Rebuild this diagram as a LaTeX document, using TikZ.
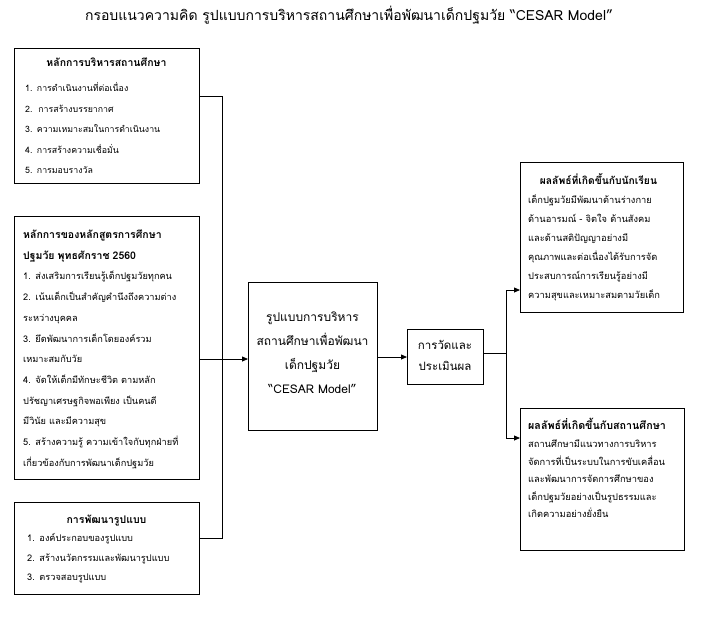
\documentclass[tikz,border=0pt]{standalone}
\usepackage{fontspec}
\newfontfamily\thai[Script=Thai]{Loma}
\usetikzlibrary{arrows.meta}
\begin{document}
\begin{tikzpicture}[x=1pt,y=-1pt,
  box/.style={draw, line width=0.8pt, inner sep=0pt, anchor=north west},
  txt/.style={inner sep=0pt, anchor=base west, align=left, text width=#1},
  txt/.default=180pt,
  ctxt/.style={inner sep=0pt, anchor=base, align=center, text width=#1},
  ctxt/.default=160pt,
  conn/.style={line width=0.8pt},
  arr/.style={conn, -{Triangle[length=6pt,width=5pt]}}
]
\useasboundingbox (0,0) rectangle (701,619);
\fill[white] (0,0) rectangle (701,619);

% title
\node[inner sep=0pt, anchor=base, font=\thai\fontsize{14}{16}\selectfont] (title) at (349,20)
  {กรอบแนวความคิด รูปแบบการบริหารสถานศึกษาเพื่อพัฒนาเด็กปฐมวัย “CESAR Model”};

% boxes
\node[box, minimum width=185pt, minimum height=135pt] (b1) at (14,48) {};
\node[box, minimum width=185pt, minimum height=263pt] (b2) at (14,216) {};
\node[box, minimum width=185pt, minimum height=92pt] (b3) at (14,502) {};
\node[box, minimum width=129pt, minimum height=148pt] (cb) at (248,282) {};
\node[box, minimum width=76pt, minimum height=55pt] (ev) at (407,329) {};
\node[box, minimum width=163pt, minimum height=150pt] (r1) at (520,162) {};
\node[box, minimum width=164pt, minimum height=142pt] (r2) at (520,408) {};

% box 1 text
\node[ctxt, font=\thai\bfseries\fontsize{10.5}{12}\selectfont] (h1) at (106.5,66) {หลักการบริหารสถานศึกษา};
\node[txt, font=\thai\fontsize{8.8}{20.5}\selectfont] (t1) at (25,91.5)
  {1. การดำเนินงานที่ต่อเนื่อง\\
   2.\ \ การสร้างบรรยากาศ\\
   3. ความเหมาะสมในการดำเนินงาน\\
   4. การสร้างความเชื่อมั่น\\
   5. การมอบรางวัล};

% box 2 text
\node[txt, font=\thai\fontsize{9.2}{20.7}\selectfont] (t2) at (23,238.5)
  {\textbf{\fontsize{10.5}{20.7}\selectfont หลักการของหลักสูตรการศึกษา}\\
   \textbf{\fontsize{10.5}{20.7}\selectfont ปฐมวัย พุทธศักราช 2560}\\
   1. ส่งเสริมการเรียนรู้เด็กปฐมวัยทุกคน\\
   2. เน้นเด็กเป็นสำคัญคำนึงถึงความต่าง\\
   ระหว่างบุคคล\\
   3. ยึดพัฒนาการเด็กโดยองค์รวม\\
   เหมาะสมกับวัย\\
   4. จัดให้เด็กมีทักษะชีวิต ตามหลัก\\
   ปรัชญาเศรษฐกิจพอเพียง เป็นคนดี\\
   มีวินัย และมีความสุข\\
   5. สร้างความรู้ ความเข้าใจกับทุกฝ่ายที่\\
   เกี่ยวข้องกับการพัฒนาเด็กปฐมวัย};

% box 3 text
\node[ctxt, font=\thai\bfseries\fontsize{10.5}{12}\selectfont] (h3) at (106.5,523) {การพัฒนารูปแบบ};
\node[txt, font=\thai\fontsize{9.2}{19.5}\selectfont] (t3) at (27,541.5)
  {1. องค์ประกอบของรูปแบบ\\
   2. สร้างนวัตกรรมและพัฒนารูปแบบ\\
   3. ตรวจสอบรูปแบบ};

% centre box text
\node[ctxt=127pt, font=\thai\fontsize{12}{24.3}\selectfont] (tc) at (312.5,321)
  {รูปแบบการบริหาร\\ สถานศึกษาเพื่อพัฒนา\\ เด็กปฐมวัย\\ “CESAR Model”};

% evaluation box text
\node[ctxt=74pt, font=\thai\fontsize{11.5}{21}\selectfont] (te) at (445,349)
  {การวัดและ\\ ประเมินผล};

% right box 1
\node[ctxt, font=\thai\bfseries\fontsize{10.3}{12}\selectfont] (hr1) at (598.5,184) {ผลลัพธ์ที่เกิดขึ้นกับนักเรียน};
\node[txt=160pt, font=\thai\fontsize{9.3}{19}\selectfont] (tr1) at (528,203.5)
  {เด็กปฐมวัยมีพัฒนาด้านร่างกาย\\
   ด้านอารมณ์ - จิตใจ ด้านสังคม\\
   และด้านสติปัญญาอย่างมี\\
   คุณภาพและต่อเนื่องได้รับการจัด\\
   ประสบการณ์การเรียนรู้อย่างมี\\
   ความสุขและเหมาะสมตามวัยเด็ก};

% right box 2
\node[txt=160pt, font=\thai\bfseries\fontsize{10.7}{14}\selectfont] (hr2) at (528,429.5) {ผลลัพธ์ที่เกิดขึ้นกับสถานศึกษา};
\node[txt=160pt, font=\thai\fontsize{9.3}{17.5}\selectfont] (tr2) at (528,447.5)
  {สถานศึกษามีแนวทางการบริหาร\\
   จัดการที่เป็นระบบในการขับเคลื่อน\\
   และพัฒนาการจัดการศึกษาของ\\
   เด็กปฐมวัยอย่างเป็นรูปธรรมและ\\
   เกิดความอย่างยั่งยืน};

% connector coordinates
\coordinate (vx) at (222,0);
\coordinate (vx2) at (506,0);
\coordinate (y1) at (0,96);
\coordinate (y2) at (0,359);
\coordinate (y3) at (0,538);
\coordinate (ya) at (0,357);
\coordinate (yb) at (0,353);
\coordinate (yr1) at (0,290);
\coordinate (yr2) at (0,438);

\draw[conn] (b1.east |- y1) -- (vx |- y1) -- (vx |- y3) -- (b3.east |- y3);
\draw[arr] (b2.east |- y2) -- (cb.west |- y2);
\draw[arr] (cb.east |- ya) -- (ev.west |- ya);
\draw[conn] (ev.east |- yb) -- (vx2 |- yb);
\draw[conn] (vx2 |- yr1) -- (vx2 |- yr2);
\draw[arr] (vx2 |- yr1) -- (r1.west |- yr1);
\draw[arr] (vx2 |- yr2) -- (r2.west |- yr2);
\end{tikzpicture}
\end{document}
